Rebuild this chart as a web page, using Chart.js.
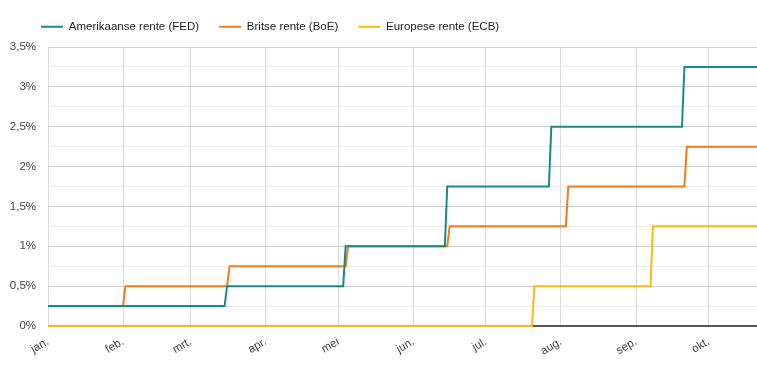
<!DOCTYPE html>
<html>
<head>
<meta charset="utf-8">
<script src="https://cdn.jsdelivr.net/npm/chart.js@4"></script>
<style>
  html, body { margin: 0; padding: 0; background: #fff; }
  #wrap { width: 757px; height: 374px; position: relative; }
</style>
</head>
<body>
<div id="wrap"><canvas id="c"></canvas></div>
<script>
// Day of year (0 = 1 jan 2022) where each series changes, and rate in %
const fedDays  = [0, 73, 74, 122, 123, 164, 165, 207, 208, 262, 263, 293];
const fedRates = [0.25, 0.25, 0.5, 0.5, 1.0, 1.0, 1.75, 1.75, 2.5, 2.5, 3.25, 3.25];

const boeDays  = [0, 31, 32, 74, 75, 123, 124, 165, 166, 214, 215, 263, 264, 293];
const boeRates = [0.25, 0.25, 0.5, 0.5, 0.75, 0.75, 1.0, 1.0, 1.25, 1.25, 1.75, 1.75, 2.25, 2.25];

const ecbDays  = [0, 200, 201, 249, 250, 293];
const ecbRates = [0, 0, 0.5, 0.5, 1.25, 1.25];

const seriesNames = ['Amerikaanse rente (FED)', 'Britse rente (BoE)', 'Europese rente (ECB)'];
const monthStarts = [0, 31, 59, 90, 120, 151, 181, 212, 243, 273];
const monthLabels = ['jan.', 'feb.', 'mrt.', 'apr.', 'mei', 'jun.', 'jul.', 'aug.', 'sep.', 'okt.'];
const yMin = 0, yMax = 3.5, yStep = 0.25;
const xMax = 293;

const colors = ['#188a8a', '#f47a1e', '#fdb913'];
const FONT = '"Liberation Sans", Arial, sans-serif';

function toPoints(days, rates) {
  return days.map((d, i) => ({ x: d, y: rates[i] }));
}

const datasets = [[fedDays, fedRates], [boeDays, boeRates], [ecbDays, ecbRates]].map((s, i) => ({
  label: seriesNames[i],
  data: toPoints(s[0], s[1]),
  borderColor: colors[i],
  backgroundColor: colors[i],
  borderWidth: 2,
  pointRadius: 0,
  pointHoverRadius: 0,
  pointStyle: 'line',
  tension: 0,
  fill: false,
  clip: 4
}));

const layoutTweak = {
  id: 'layoutTweak',
  beforeLayout(chart) {
    const lg = chart.legend;
    if (lg && !lg._patched) {
      const fit = lg.fit;
      lg.fit = function () { fit.call(this); this.height = 47; };
      lg._patched = true;
    }
  },
  afterLayout(chart) {
    if (chart.legend) { chart.legend.left = 21; chart.legend.top = 1; }
  }
};

new Chart(document.getElementById('c'), {
  type: 'line',
  data: { datasets },
  options: {
    responsive: true,
    maintainAspectRatio: false,
    animation: false,
    layout: { padding: 0 },
    plugins: {
      tooltip: { enabled: false },
      legend: {
        position: 'top',
        align: 'start',
        labels: {
          usePointStyle: true,
          pointStyleWidth: 22,
          boxHeight: 11,
          padding: 20,
          color: '#222',
          font: { family: FONT, size: 11.5 }
        }
      }
    },
    scales: {
      x: {
        type: 'linear',
        min: 0,
        max: xMax,
        afterBuildTicks(scale) { scale.ticks = monthStarts.map(v => ({ value: v })); },
        afterFit(scale) { scale.height = 48; },
        ticks: {
          autoSkip: false,
          minRotation: 30,
          maxRotation: 30,
          padding: 9,
          color: '#444',
          font: { family: FONT, size: 11.5 },
          callback(v) { const i = monthStarts.indexOf(v); return i >= 0 ? monthLabels[i] : ''; }
        },
        grid: { color: '#dadada', lineWidth: 1, drawTicks: false },
        border: { display: false }
      },
      y: {
        min: yMin,
        max: yMax,
        afterFit(scale) { scale.width = 48; },
        ticks: {
          stepSize: yStep,
          padding: 12,
          color: '#444',
          font: { family: FONT, size: 11.5 },
          callback(v) {
            if (Math.abs(v / 0.5 - Math.round(v / 0.5)) > 1e-6) return '';
            return String(+v.toFixed(2)).replace('.', ',') + '%';
          }
        },
        grid: {
          drawTicks: false,
          color(ctx) {
            const v = ctx.tick ? ctx.tick.value : 0;
            if (Math.abs(v) < 1e-9) return '#555';
            return Math.abs(v / 0.5 - Math.round(v / 0.5)) < 1e-6 ? '#cfcfcf' : '#ededed';
          },
          lineWidth(ctx) {
            const v = ctx.tick ? ctx.tick.value : 0;
            return Math.abs(v) < 1e-9 ? 2 : 1;
          }
        },
        border: { display: false }
      }
    }
  },
  plugins: [layoutTweak]
});
</script>
</body>
</html>
